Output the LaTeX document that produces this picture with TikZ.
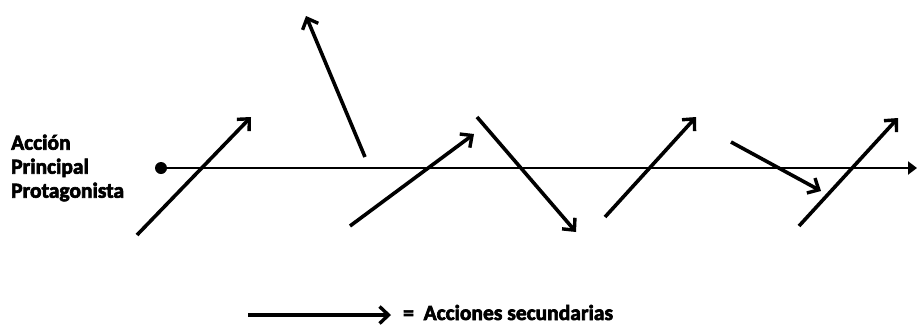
\documentclass[tikz,border=0pt]{standalone}
\usepackage{fontspec}
\setmainfont{Carlito}
\newfontfamily\heavyfont{Carlito}[BoldFeatures={FakeBold=3}]
\usetikzlibrary{arrows.meta,positioning}

\begin{document}
\begin{tikzpicture}[x=1pt, y=-1pt,
        mainline/.style={line width=2.6pt, -{Triangle[length=9pt, width=13pt]}},
        secondary/.style={line width=3.6pt, -{Straight Barb[length=9pt, width=17pt, line width=3.4pt]}},
        lbl/.style={font=\heavyfont\fontsize{21.5}{24}\selectfont\bfseries, inner sep=0pt}
    ]
    \useasboundingbox (0,0) rectangle (917,327);

    % ---- accion principal ----
    \node[lbl, anchor=west, align=left] (prot) at (11,168) {Acción\\Principal\\Protagonista};
    \node[circle, fill=black, inner sep=0pt, minimum size=12pt] (dot) at (161,168) {};
    \coordinate (fin) at (917,168);
    \draw[mainline] (dot.center) -- (fin);

    % ---- acciones secundarias ----
    \coordinate (a1) at (137,235);  \coordinate (b1) at (251,117);
    \coordinate (a2) at (365,157);  \coordinate (b2) at (306,16);
    \coordinate (a3) at (350,226);  \coordinate (b3) at (474,134);
    \coordinate (a4) at (477,117);  \coordinate (b4) at (576,232);
    \coordinate (a5) at (605,217);  \coordinate (b5) at (696,117);
    \coordinate (a6) at (731,142);  \coordinate (b6) at (821,191);
    \coordinate (a7) at (799,226);  \coordinate (b7) at (898,118);
    \foreach \i in {1,...,7}
        \draw[secondary] (a\i) -- (b\i);

    % ---- leyenda ----
    \coordinate (la) at (248,315);
    \coordinate (lb) at (391,315);
    \draw[secondary] (la) -- (lb);
    \node[lbl, anchor=base west] (ley) at (403,320) {=\ \ Acciones secundarias};
\end{tikzpicture}
\end{document}
